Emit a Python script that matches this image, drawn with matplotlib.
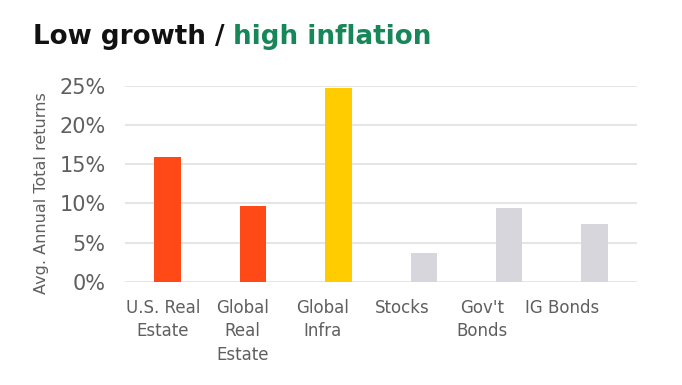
import numpy as np
import matplotlib
matplotlib.use("Agg")
import matplotlib.pyplot as plt

# chart data
categories = ["U.S. Real\nEstate", "Global\nReal\nEstate", "Global\nInfra", "Stocks", "Gov't\nBonds", "IG Bonds"]
returns = [15.9, 9.7, 24.7, 3.7, 9.4, 7.4]
colors = ["#FF4A17", "#FF4A17", "#FFCC00", "#D6D6DC", "#D6D6DC", "#D6D6DC"]
yticks = [0, 5, 10, 15, 20, 25]

TEXT_GREY = "#5f5f5f"

plt.rcParams['font.family'] = ['DejaVu Sans']

fig = plt.figure(figsize=(6.82, 3.85), dpi=100)
ax = fig.add_axes([0.1833, 0.2675, 0.751, 0.51])

x = np.arange(len(categories))
ax.bar(x, returns, width=0.31, color=colors, zorder=3)

ax.set_xlim(-0.5, len(categories) - 0.5)
ax.set_ylim(0, 25)
ax.set_yticks(yticks)
ax.set_yticklabels([f"{t}%" for t in yticks])

# labels in the original sit slightly left of the bars, drifting rightwards
ax.set_xticks(x * 0.934 - 0.055)
ax.set_xticklabels(categories, linespacing=1.4)

ax.grid(axis='y', color="#E0E0E0", linewidth=1.2, zorder=0)
for s in ax.spines.values():
    s.set_visible(False)
ax.tick_params(axis='both', length=0, colors=TEXT_GREY)
ax.tick_params(axis='y', labelsize=15, pad=14)
ax.tick_params(axis='x', labelsize=12, pad=12)

ax.set_ylabel("Avg. Annual Total returns", fontsize=11.5, color=TEXT_GREY)
ax.yaxis.set_label_coords(-0.148, 0.455)

# two-colour title
t1 = fig.text(0.048, 0.885, "Low growth / ", fontsize=18.8, fontweight='bold', color="#111111")
fig.canvas.draw()
bb = t1.get_window_extent()
fig.text(bb.x1 / fig.bbox.width, 0.885, "high inflation", fontsize=18.8, fontweight='bold', color="#17875A")

fig.savefig("out.png", dpi=100)
